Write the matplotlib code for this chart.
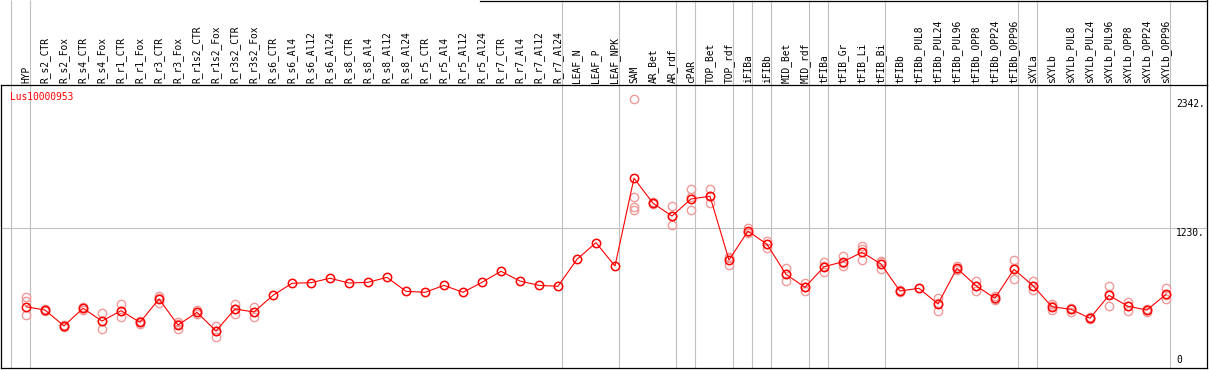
import matplotlib
matplotlib.use('Agg')
import matplotlib.pyplot as plt
import matplotlib.transforms as mtransforms
from matplotlib.lines import Line2D
import numpy as np

# Nombres de las muestras (eje x)
muestras = ['HYP', 'R_s2_CTR', 'R_s2_Fox', 'R_s4_CTR', 'R_s4_Fox', 'R_r1_CTR', 'R_r1_Fox',
            'R_r3_CTR', 'R_r3_Fox', 'R_r1s2_CTR', 'R_r1s2_Fox', 'R_r3s2_CTR', 'R_r3s2_Fox',
            'R_s6_CTR', 'R_s6_Al4', 'R_s6_Al12', 'R_s6_Al24', 'R_s8_CTR', 'R_s8_Al4',
            'R_s8_Al12', 'R_s8_Al24', 'R_r5_CTR', 'R_r5_Al4', 'R_r5_Al12', 'R_r5_Al24',
            'R_r7_CTR', 'R_r7_Al4', 'R_r7_Al12', 'R_r7_Al24', 'LEAF_N', 'LEAF_P', 'LEAF_NPK',
            'SAM', 'AR_Bet', 'AR_rdf', 'cPAR', 'TOP_Bet', 'TOP_rdf', 'iFIBa', 'iFIBb',
            'MID_Bet', 'MID_rdf', 'tFIBa', 'tFIB_Gr', 'tFIB_Li', 'tFIB_Bi', 'tFIBb',
            'tFIBb_PUL8', 'tFIBb_PUL24', 'tFIBb_PUL96', 'tFIBb_OPP8', 'tFIBb_OPP24',
            'tFIBb_OPP96', 'sXYLa', 'sXYLb', 'sXYLb_PUL8', 'sXYLb_PUL24', 'sXYLb_PUL96',
            'sXYLb_OPP8', 'sXYLb_OPP24', 'sXYLb_OPP96']

# Valor medio de cada muestra
media = [555, 527, 390, 542, 432, 521, 421, 622, 398, 507, 347, 536, 510,
         653, 757, 762, 800, 759, 765, 808, 688, 679, 739, 679, 765,
         860, 776, 739, 731, 963, 1106, 905,
         1660, 1445, 1335, 1482, 1505, 957, 1206, 1092,
         834, 722, 899, 942, 1023, 923, 690,
         714, 579, 886, 736, 628, 877,
         736, 555, 533, 456, 653, 559, 527, 662]

# Replicas de cada muestra
replicas = [[641, 607, 484], [535, 527, 520], [400, 390, 382], [555, 540, 530],
            [499, 436, 361], [581, 521, 469], [432, 421, 410], [650, 630, 587],
            [426, 406, 361], [527, 507, 490], [390, 350, 297], [579, 536, 493],
            [550, 510, 469],
            [], [], [], [], [], [], [], [], [], [], [], [], [], [], [], [],
            [], [], [],
            [2342, 1501, 1415, 1387], [1455, 1440], [1421, 1335, 1255],
            [1565, 1495, 1387], [1565, 1505, 1445], [985, 970, 914],
            [1235, 1196, 1187], [1123, 1095, 1058],
            [891, 834, 779], [757, 722, 690], [942, 905, 851], [994, 928, 905],
            [1077, 1050, 957], [951, 936, 882], [700, 690, 680],
            [714], [628, 590, 521], [905, 880, 873], [779, 736, 693],
            [647, 620, 617], [954, 885, 791],
            [779, 730, 699], [579, 560, 527], [545, 533, 512], [465, 456, 448],
            [731, 664, 564], [598, 561, 518], [535, 527, 510], [714, 653, 619]]

# Indices despues de los cuales hay una linea de grupo
separadores = [-1, 0, 28, 31, 34, 35, 37, 38, 39, 41, 42, 45, 52, 53, 60]

gen = 'Lus10000953'
fuente = 'DejaVu Sans Mono'

fig = plt.figure(figsize=(12.09, 3.70), dpi=100)
ax = fig.add_axes([1/1209, 2/370, 1206/1209, 283/370])
x = np.arange(len(muestras))
ax.set_xlim(-1.316, 62.16)
ax.set_ylim(28.4, 2461.7)
ax.set_xticks([])
ax.set_yticks([])
for s in ax.spines.values():
    s.set_linewidth(0.9)
    s.set_color('black')

# Lineas grises de grupos y de referencia
ax.vlines(np.array(separadores) + 0.21, 0, 1.301, transform=ax.get_xaxis_transform(),
          colors='#c0c0c0', lw=0.8, clip_on=False, zorder=1)
ax.axhline(1230, color='#c0c0c0', lw=0.8, zorder=1)

# Replicas
for i, reps in enumerate(replicas):
    ax.plot([i] * len(reps), reps, 'o', ls='none', mfc='none', mec='#f09a9a',
            ms=6.0, mew=1.0, zorder=2)

# Media
ax.plot(x, media, '-', color='red', lw=0.8, marker='o', mfc='none', mec='red',
        ms=6.0, mew=1.1, zorder=3)

# Nombres de muestras arriba
trans = mtransforms.offset_copy(ax.get_xaxis_transform(), fig=fig, x=0, y=2.5, units='dots')
for i, nombre in enumerate(muestras):
    ax.text(i, 1, nombre, rotation=90, ha='center', va='bottom', transform=trans,
            fontsize=6.9, family=fuente, color='black')

# Etiquetas del eje a la derecha
xt = (1176 - 1) / 1206
ax.text(xt, 2342, '2342.', transform=ax.get_yaxis_transform(), ha='left', va='top',
        fontsize=6.9, family=fuente)
ax.text(xt, 1230, '1230.', transform=ax.get_yaxis_transform(), ha='left', va='top',
        fontsize=6.9, family=fuente)
ax.text(xt, 3 / 283, '0', transform=ax.transAxes, ha='left', va='bottom',
        fontsize=6.9, family=fuente)

ax.text(9 / 1206, 1 - 12 / 283, gen, transform=ax.transAxes, ha='left', va='center',
        fontsize=6.9, family=fuente, color='red')

# Borde superior y derecho en la zona de nombres
fig.add_artist(Line2D([480 / 1209, 1207 / 1209], [1 - 0.5 / 370, 1 - 0.5 / 370],
                      color='black', lw=0.9))
fig.add_artist(Line2D([1206.5 / 1209, 1206.5 / 1209], [285 / 370, 1],
                      color='black', lw=0.9))

fig.savefig('out.png', dpi=100)
